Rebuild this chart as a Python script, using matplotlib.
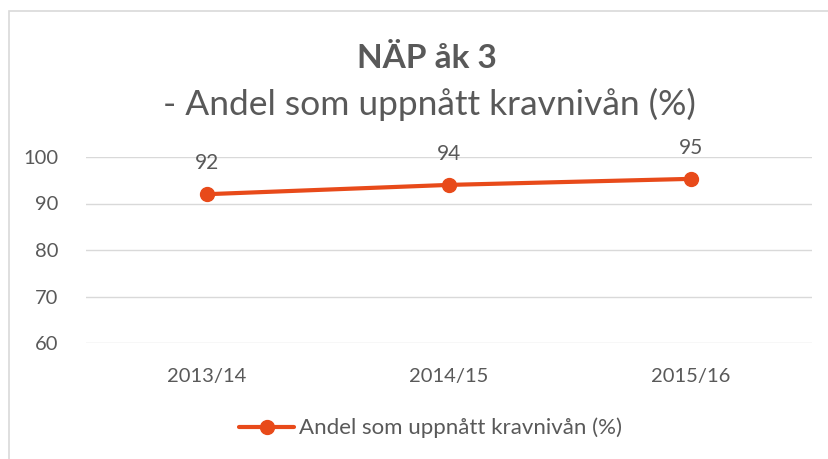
import matplotlib
matplotlib.use("Agg")
import matplotlib.pyplot as plt
from matplotlib.patches import Rectangle

# ---- data
categories = ["2013/14", "2014/15", "2015/16"]
values = [92.0, 94.0, 95.3]
value_labels = ["92", "94", "95"]
series_name = "Andel som uppnått kravnivån (%)"
yticks = [60, 70, 80, 90, 100]

LINE_COLOR = "#E84A1A"
TEXT_COLOR = "#595959"
GRID_COLOR = "#D9D9D9"

plt.rcParams["font.family"] = ["Lato", "DejaVu Sans"]

fig = plt.figure(figsize=(8.29, 4.59), dpi=100)
# chart border
fig.patches.append(Rectangle((9 / 829, -0.01), 1.0, 1 - 11 / 459 + 0.01,
                             transform=fig.transFigure, fill=False,
                             edgecolor=GRID_COLOR, linewidth=1.2))

ax = fig.add_axes([86 / 829, 1 - 343 / 459, (812 - 86) / 829, (343 - 157) / 459])
x = [i + 0.5 for i in range(len(categories))]
ax.plot(x, values, color=LINE_COLOR, lw=3, marker="o", ms=10,
        solid_capstyle="round", label=series_name)
for xi, v, lab in zip(x, values, value_labels):
    ax.annotate(lab, (xi, v), xytext=(0, 15), textcoords="offset points",
                ha="center", va="bottom", fontsize=15, color=TEXT_COLOR)

ax.set_xlim(0, 3)
ax.set_ylim(60, 100)
ax.set_yticks(yticks)
ax.set_xticks(x)
ax.set_xticklabels(categories)
ax.grid(axis="y", color=GRID_COLOR, lw=1)
ax.set_axisbelow(True)
for s in ax.spines.values():
    s.set_visible(False)
ax.tick_params(length=0, labelsize=14.5, colors=TEXT_COLOR)
ax.tick_params(axis="x", pad=18)
ax.tick_params(axis="y", pad=20)

fig.text(427 / 829, 1 - 59 / 459, "NÄP åk 3", ha="center", va="center",
         fontsize=24, fontweight="bold", color=TEXT_COLOR)
fig.text(429 / 829, 1 - 104 / 459, "- Andel som uppnått kravnivån (%)", ha="center",
         va="center", fontsize=25.5, color=TEXT_COLOR)

leg = fig.legend(loc="center", bbox_to_anchor=(0.519, 1 - 428 / 459), frameon=False,
                 fontsize=16, handlelength=2.5, handletextpad=0.2)
for t in leg.get_texts():
    t.set_color(TEXT_COLOR)

fig.savefig("out.png", dpi=100)
